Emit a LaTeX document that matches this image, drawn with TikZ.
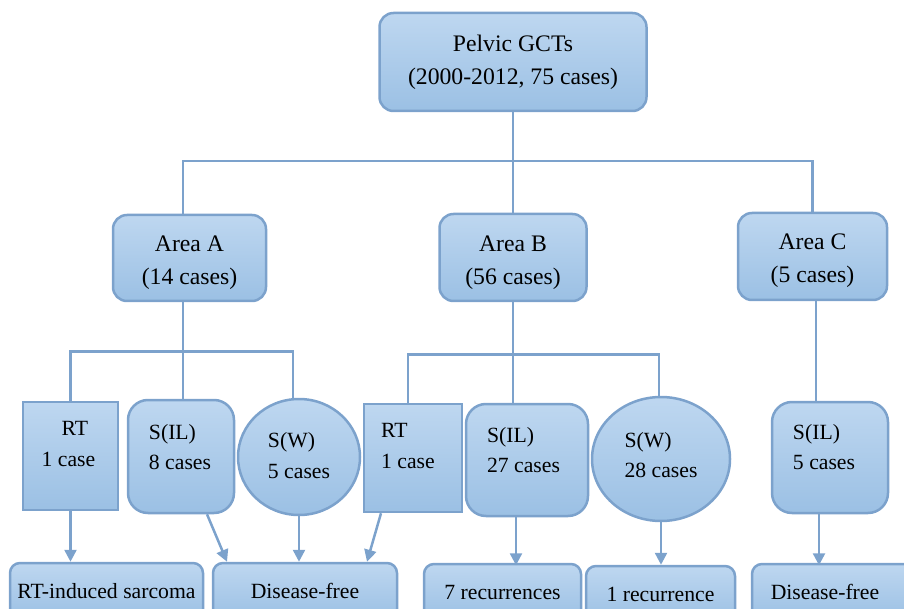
\documentclass[tikz,border=0pt]{standalone}
\usepackage{fontspec}
\setmainfont{Liberation Serif}
\usetikzlibrary{arrows.meta,shapes.geometric}
\definecolor{boxtop}{RGB}{190,215,240}
\definecolor{boxbot}{RGB}{155,192,228}
\definecolor{boxline}{RGB}{124,162,204}

\begin{document}
\begin{tikzpicture}[x=1pt,y=-1pt,
    sqbox/.style={draw=boxline,line width=2.5pt,top color=boxtop,bottom color=boxbot,inner sep=0pt},
    hibox/.style={sqbox,rounded corners=14pt,align=center,font=\fontsize{23.7}{33}\selectfont},
    rbox/.style={sqbox,rounded corners=20pt},
    oval/.style={sqbox,ellipse},
    endbox/.style={sqbox,rounded corners=10pt,font=\fontsize{21.7}{30}\selectfont},
    lowtxt/.style={align=left,inner sep=0pt,font=\fontsize{21.7}{30.5}\selectfont},
    conn/.style={draw=boxline,line width=2.5pt},
    arr/.style={conn,-{Triangle[length=12pt,width=12pt]}}]
      \useasboundingbox (0,0) rectangle (904,609);
      \clip (0,0) rectangle (904,609);

      \node[hibox,minimum width=267,minimum height=98] (pelvic) at (513,62) {Pelvic GCTs\\(2000-2012, 75 cases)};

      % the strut pushes the two lines a little down in the box
      \node[hibox,minimum width=153,minimum height=86] (areaA) at (189.5,258) {\rule{0pt}{26pt}Area A\\(14 cases)};
      \node[hibox,minimum width=147,minimum height=87] (areaB) at (513,257.5) {\rule{0pt}{26pt}Area B\\(56 cases)};
      \node[hibox,minimum width=149,minimum height=87] (areaC) at (812.5,256.5) {\rule{0pt}{24pt}Area C\\(5 cases)};

      % treatment groups
      \node[sqbox,minimum width=95,minimum height=108] (rtA) at (70.5,456) {};
      \node[rbox,minimum width=106,minimum height=113] (silA) at (181,456.5) {};
      \node[oval,minimum width=122,minimum height=116] (swA) at (299,457) {};
      \node[sqbox,minimum width=98,minimum height=108] (rtB) at (413,458) {};
      \node[rbox,minimum width=122,minimum height=112] (silB) at (527,460) {};
      \node[oval,minimum width=138,minimum height=124] (swB) at (661,459) {};
      \node[rbox,minimum width=116,minimum height=111] (silC) at (830,457.5) {};

      \node[lowtxt] (rtA-t) at ([xshift=-2,yshift=12]rtA.center) {\hspace*{20pt}RT\\1 case};
      \node[lowtxt] (silA-t) at ([xshift=-1,yshift=9.5]silA.center) {S(IL)\\8 cases};
      \node[lowtxt] (swA-t) at ([yshift=1.5]swA.center) {S(W)\\5 cases};
      \node[lowtxt] (rtB-t) at ([xshift=-5,yshift=12]rtB.center) {RT\\1 case};
      \node[lowtxt] (silB-t) at ([xshift=-3.5,yshift=10]silB.center) {S(IL)\\27 cases};
      \node[lowtxt] (swB-t) at ([yshift=4]swB.center) {S(W)\\28 cases};
      \node[lowtxt] (silC-t) at ([xshift=-6,yshift=10.5]silC.center) {S(IL)\\5 cases};

      % outcomes (cut off at the bottom)
      \node[endbox,minimum width=193,minimum height=56] (sarc) at (106.5,591) {RT-induced sarcoma};
      \node[endbox,minimum width=184,minimum height=56] (freeA) at (305,591) {Disease-free};
      \node[endbox,minimum width=157,minimum height=56] (recIL) at (502.5,592) {7 recurrences};
      \node[endbox,minimum width=149,minimum height=56] (recW) at (660.5,594) {1 recurrence};
      \node[endbox,minimum width=170,minimum height=56] (freeC) at (837,592) {Disease-free\hspace*{24pt}};

      \draw[conn] (pelvic.south) -- ++(0,49) coordinate (busT);
      \draw[conn] ([xshift=-6.5]areaA.north) |- (busT) -| (areaC.north);
      \draw[conn] (busT) -- (areaB.north);

      \draw[conn] ([xshift=-6.5]areaA.south) -- ++(0,49) coordinate (busA);
      \draw[conn] (rtA.north) |- (busA) -| ([xshift=-6]swA.north);
      \draw[conn] (busA) -- (busA |- silA.north);

      \draw[conn] (areaB.south) -- ++(0,52) coordinate (busB);
      \draw[conn] ([xshift=-5]rtB.north) |- (busB) -| ([xshift=-2]swB.north);
      \draw[conn] (busB) -- (busB |- silB.north);

      \draw[conn] ([xshift=3.5]areaC.south) -- ++(0,102);

      \draw[arr] (rtA.south) -- (rtA.south |- sarc.north);
      \draw[arr] ([xshift=26]silA.south) -- ([xshift=-78]freeA.north);
      \draw[arr] (swA.south) -- (swA.south |- freeA.north);
      \draw[arr] ([xshift=-32]rtB.south) -- ([xshift=62]freeA.north);
      \draw[arr] ([xshift=-11]silB.south) -- ++(0,48);
      \draw[arr] (swB.south) -- (swB.south |- recW.north);
      \draw[arr] ([xshift=-11]silC.south) -- ++(0,51);
    \end{tikzpicture}
\end{document}
